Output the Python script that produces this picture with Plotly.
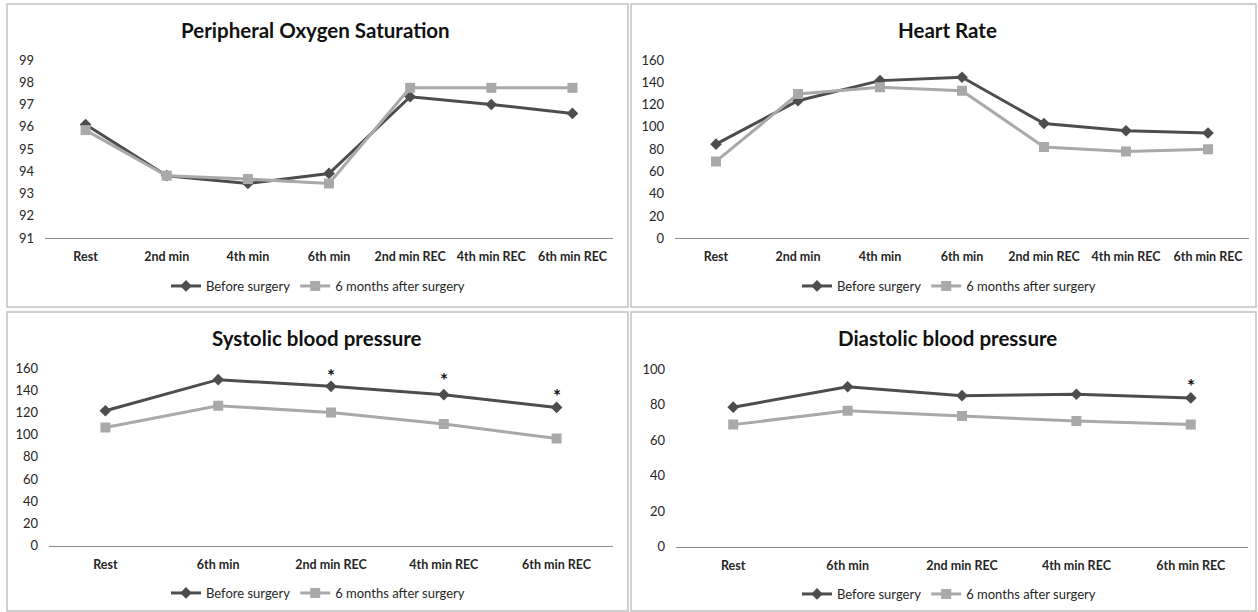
import plotly.graph_objects as go

W, H = 1258, 612

# ---------------- data ----------------
cats7 = ["Rest", "2nd min", "4th min", "6th min", "2nd min REC", "4th min REC", "6th min REC"]
cats5 = ["Rest", "6th min", "2nd min REC", "4th min REC", "6th min REC"]

spo2_before = [96.1, 93.8, 93.45, 93.9, 97.35, 97.0, 96.6]
spo2_after = [95.85, 93.8, 93.65, 93.45, 97.75, 97.75, 97.75]

hr_before = [84.5, 123.5, 141.5, 144.5, 103, 96.5, 94.5]
hr_after = [69, 129.5, 135.5, 132.5, 82, 78, 80]

sbp_before = [121.5, 149.5, 143.5, 136, 124.5]
sbp_after = [106.5, 126, 120, 109.5, 96.5]

dbp_before = [78.5, 90, 85, 85.8, 83.7]
dbp_after = [68.7, 76.5, 73.5, 70.7, 68.7]

sbp_star_cats = ["2nd min REC", "4th min REC", "6th min REC"]
sbp_star_vals = [157.5, 154, 139.5]
dbp_star_cats = ["6th min REC"]
dbp_star_vals = [93.8]

titles = ["Peripheral Oxygen Saturation", "Heart Rate",
          "Systolic blood pressure", "Diastolic blood pressure"]
series_names = ["Before surgery", "6 months after surgery"]

DARK = "#4d4d4d"
LIGHT = "#a9a9a9"
FONT = "Lato"
TXT = "#262626"

fig = go.Figure()

panels = [
    dict(cats=cats7, b=spo2_before, a=spo2_after, yr=[91, 99], dt=1,
         xd=(45, 613), yd=(60, 238), title_xy=(316, 30), leg_xy=(318, 286)),
    dict(cats=cats7, b=hr_before, a=hr_after, yr=[0, 160], dt=20,
         xd=(675, 1249), yd=(60, 238.3), title_xy=(947, 30), leg_xy=(949, 286)),
    dict(cats=cats5, b=sbp_before, a=sbp_after, yr=[0, 160], dt=20,
         xd=(49, 613), yd=(368, 545.7), title_xy=(317, 338), leg_xy=(318, 593)),
    dict(cats=cats5, b=dbp_before, a=dbp_after, yr=[0, 100], dt=20,
         xd=(676, 1248), yd=(369, 546.7), title_xy=(947, 338), leg_xy=(949, 594)),
]

for i, p in enumerate(panels):
    n = i + 1
    xa = "x" if n == 1 else f"x{n}"
    ya = "y" if n == 1 else f"y{n}"
    lg = "legend" if n == 1 else f"legend{n}"
    fig.add_trace(go.Scatter(
        x=p["cats"], y=p["b"], name=series_names[0], mode="lines+markers",
        line=dict(color=DARK, width=3), marker=dict(symbol="diamond", size=9, color=DARK),
        xaxis=xa, yaxis=ya, legend=lg))
    fig.add_trace(go.Scatter(
        x=p["cats"], y=p["a"], name=series_names[1], mode="lines+markers",
        line=dict(color=LIGHT, width=3), marker=dict(symbol="square", size=10, color=LIGHT),
        xaxis=xa, yaxis=ya, legend=lg))

    xkey = "xaxis" if n == 1 else f"xaxis{n}"
    ykey = "yaxis" if n == 1 else f"yaxis{n}"
    x0, x1 = p["xd"]
    yt, yb = p["yd"]
    fig.layout[xkey] = dict(
        domain=[x0 / W, x1 / W], anchor=ya, type="category",
        categoryorder="array", categoryarray=p["cats"],
        range=[-0.5, len(p["cats"]) - 0.5], automargin=False, fixedrange=True,
        showgrid=False, zeroline=False, showline=True, linecolor="#8c8c8c", linewidth=1,
        ticks="", ticklabelstandoff=7,
        tickfont=dict(family=FONT, size=12.5, color=TXT, weight="bold"))
    fig.layout[ykey] = dict(
        domain=[1 - yb / H, 1 - yt / H], anchor=xa, range=p["yr"], automargin=False,
        fixedrange=True,
        dtick=p["dt"], tick0=0, showgrid=False, zeroline=False, showline=False,
        ticks="", ticklabelstandoff=10,
        tickfont=dict(family=FONT, size=13, color=TXT))

    tx, ty = p["title_xy"]
    fig.add_annotation(x=tx / W, y=1 - ty / H, xref="paper", yref="paper",
                       text=f"<b>{titles[i]}</b>", showarrow=False,
                       xanchor="center", yanchor="middle",
                       font=dict(family=FONT, size=20.5, color="#111111"))

    lx, ly = p["leg_xy"]
    fig.layout[lg] = dict(orientation="h", x=lx / W, y=1 - ly / H,
                          xanchor="center", yanchor="middle",
                          font=dict(family=FONT, size=13, color=TXT),
                          bgcolor="rgba(0,0,0,0)", itemwidth=30,
                          tracegroupgap=0)

# significance stars
for c, v in zip(sbp_star_cats, sbp_star_vals):
    fig.add_annotation(x=c, y=v, xref="x3", yref="y3", text="<b>*</b>", showarrow=False,
                       yanchor="middle", yshift=-5,
                       font=dict(family=FONT, size=19, color="#111111"))
for c, v in zip(dbp_star_cats, dbp_star_vals):
    fig.add_annotation(x=c, y=v, xref="x4", yref="y4", text="<b>*</b>", showarrow=False,
                       yanchor="middle", yshift=-5,
                       font=dict(family=FONT, size=19, color="#111111"))

# panel borders
boxes = [(7, 4, 628, 307), (631, 4, 1256, 307), (7, 312, 628, 611), (631, 312, 1256, 611)]
for (a, b, c, d) in boxes:
    fig.add_shape(type="rect", xref="paper", yref="paper",
                  x0=a / W, x1=c / W, y0=1 - d / H, y1=1 - b / H,
                  line=dict(color="#c4c0c0", width=1.5), fillcolor="rgba(0,0,0,0)")

fig.update_layout(width=W, height=H, margin=dict(l=0, r=0, t=0, b=0, pad=0, autoexpand=False),
                  paper_bgcolor="white", plot_bgcolor="white", showlegend=True)

fig.write_html("out.html", config={"displayModeBar": False},
               post_script="document.body.style.margin='0px';document.body.style.overflow='hidden';")
